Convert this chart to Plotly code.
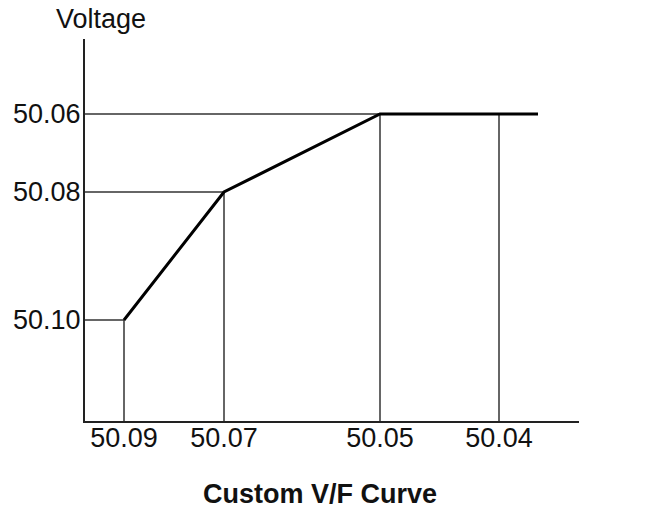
import plotly.graph_objects as go

# Frequency tick labels and their positions along the horizontal axis (arbitrary units)
freq_labels = ["50.09", "50.07", "50.05", "50.04"]
freq_pos = [39, 139, 295, 414]

# Voltage tick labels and their positions along the vertical axis (arbitrary units)
volt_labels = ["50.10", "50.08", "50.06"]
volt_pos = [101, 229, 307]

# Custom V/F curve points
curve_x = [39, 139, 295, 453]
curve_y = [101, 229, 307, 307]

# Which voltage level each frequency guide line rises to
guide_level = [101, 229, 307, 307]

X_MAX = 494
Y_MAX = 382

fig = go.Figure()

thin = dict(color="#333333", width=1.5)

# horizontal guide lines from the voltage axis to the curve
for v, fx in zip(volt_pos, [39, 139, 295]):
    fig.add_trace(go.Scatter(x=[0, fx], y=[v, v], mode="lines", line=thin,
                             hoverinfo="skip", showlegend=False))

# vertical guide lines from the frequency axis up to the curve
for fx, lv in zip(freq_pos, guide_level):
    fig.add_trace(go.Scatter(x=[fx, fx], y=[0, lv], mode="lines", line=thin,
                             hoverinfo="skip", showlegend=False))

# the curve itself
fig.add_trace(go.Scatter(x=curve_x, y=curve_y, mode="lines",
                         line=dict(color="#000000", width=3),
                         showlegend=False))

font_main = "Liberation Sans, Arial, sans-serif"
FS = 27

# the page body has an 8px margin, so the figure is 8px smaller and offset
fig.update_layout(
    width=641, height=500,
    margin=dict(l=77, r=70, t=31, b=87, autoexpand=False),
    paper_bgcolor="white", plot_bgcolor="white",
    font=dict(family=font_main, size=FS, color="#111111"),
    xaxis=dict(range=[0, X_MAX], showgrid=False, zeroline=False,
               showline=True, linecolor="#222222", linewidth=2,
               tickmode="array", tickvals=freq_pos, ticktext=freq_labels,
               ticks="", tickfont=dict(size=FS), fixedrange=True,
               automargin=False, ticklabelstandoff=-8),
    yaxis=dict(range=[0, Y_MAX], showgrid=False, zeroline=False,
               showline=True, linecolor="#222222", linewidth=2,
               tickmode="array", tickvals=volt_pos, ticktext=volt_labels,
               ticks="", tickfont=dict(size=FS), fixedrange=True,
               automargin=False, ticklabelstandoff=-3),
    annotations=[
        dict(text="Voltage", xref="x", yref="paper", x=16, y=1.0,
             xanchor="center", yanchor="bottom", showarrow=False,
             font=dict(size=FS), yshift=3),
        dict(text="Frequency", xref="x", yref="y", x=X_MAX + 1, y=18,
             xanchor="center", yanchor="middle", showarrow=False,
             font=dict(size=FS)),
        dict(text="<b>Custom V/F Curve</b>", xref="x", yref="paper",
             x=235, y=0, xanchor="center", yanchor="middle",
             showarrow=False, font=dict(size=FS), yshift=-73),
    ],
)

fig.write_html("out.html")
